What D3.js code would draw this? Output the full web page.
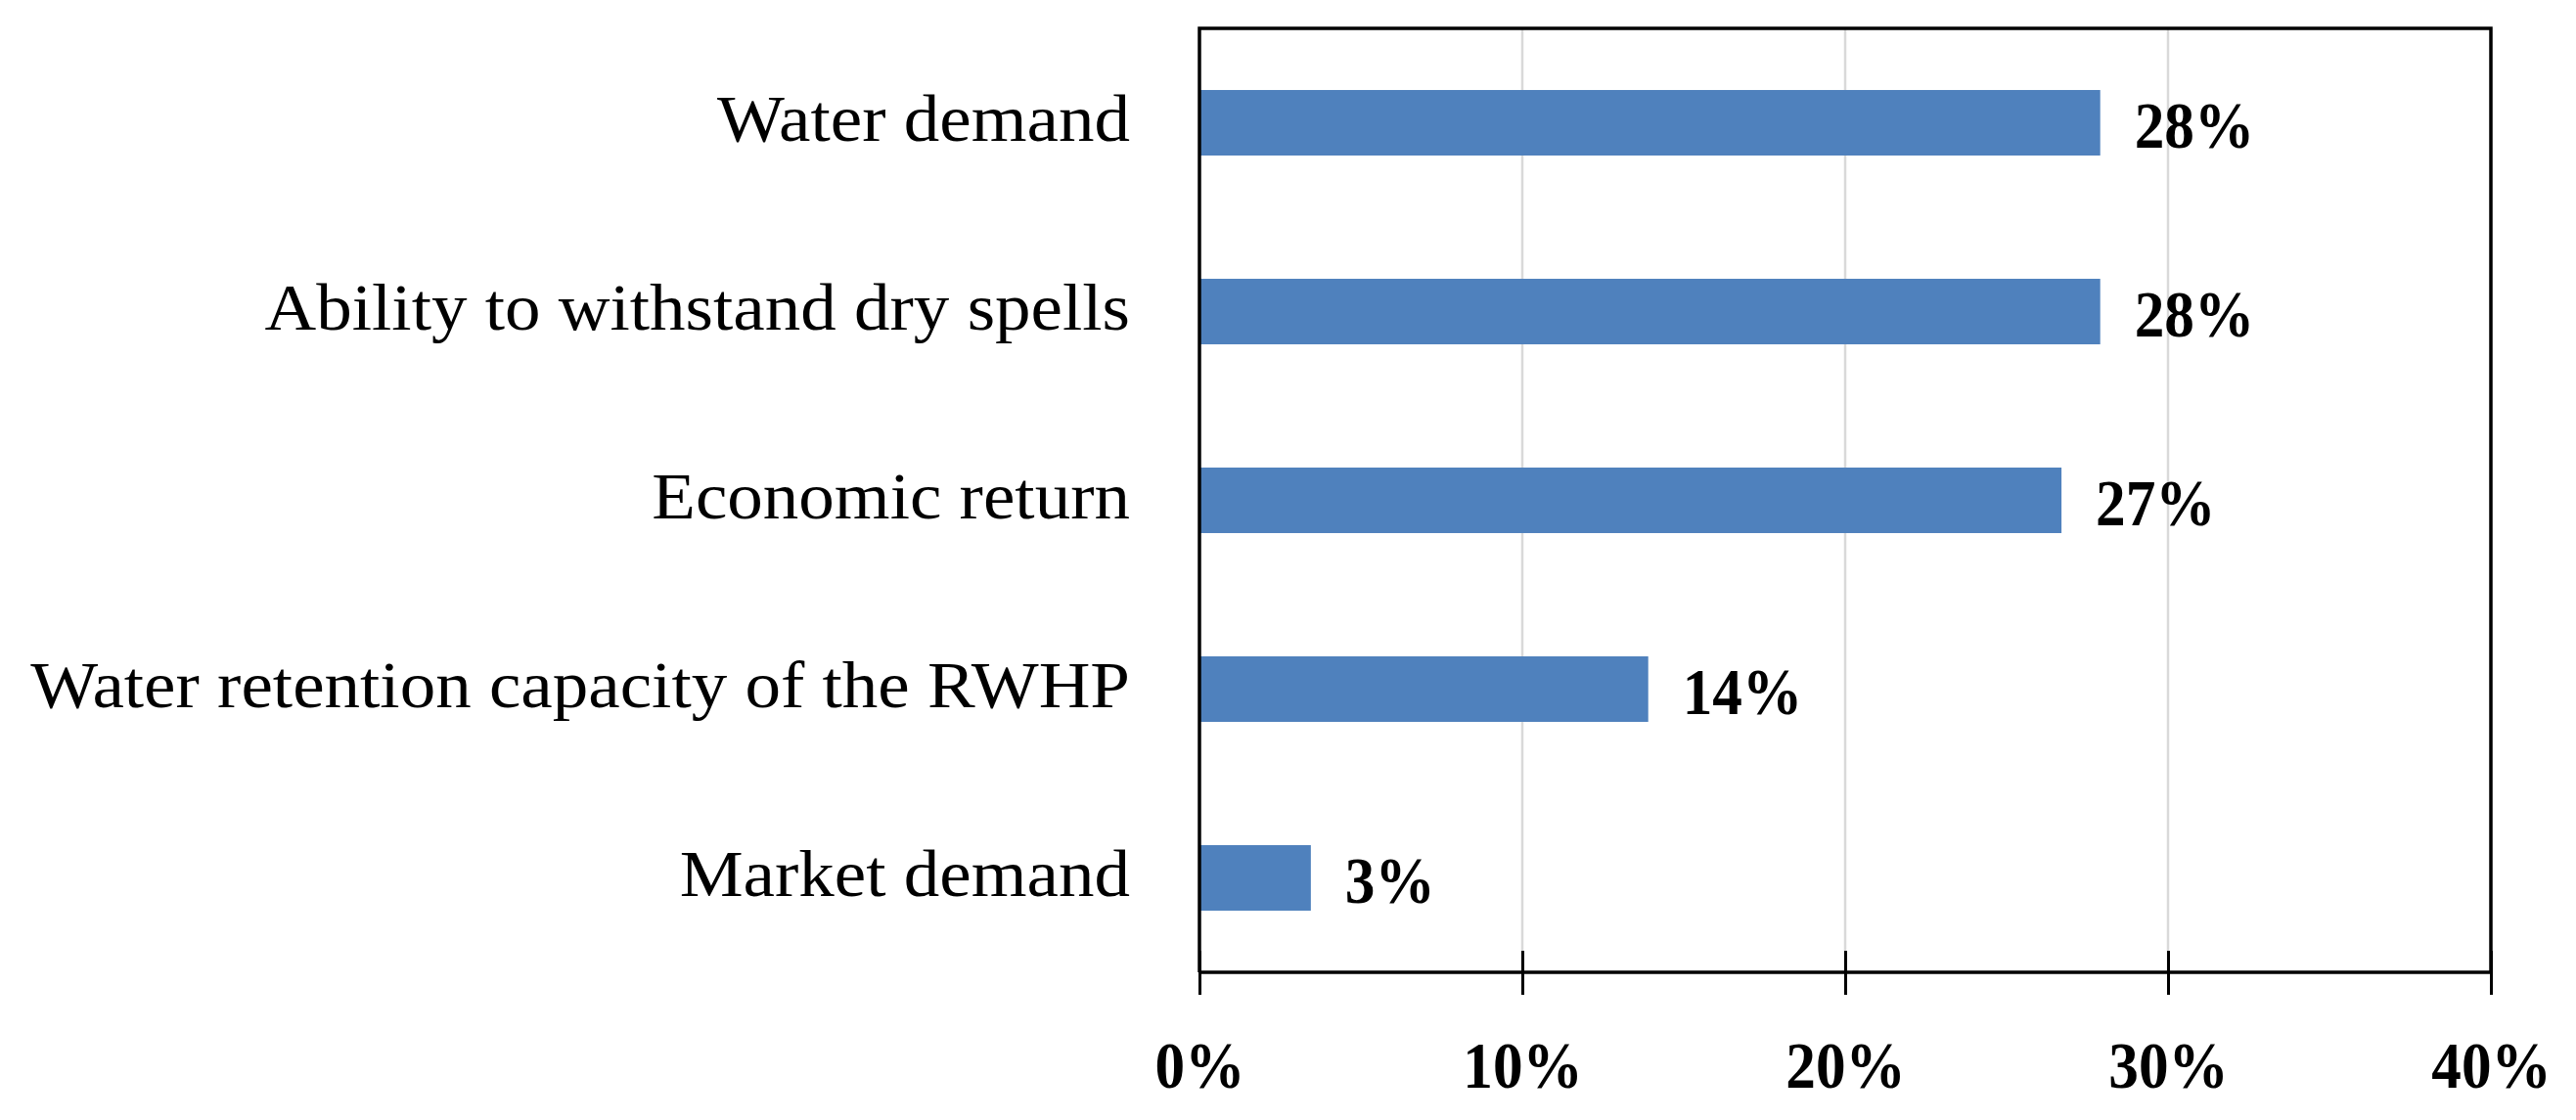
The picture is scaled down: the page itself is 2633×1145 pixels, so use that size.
<!DOCTYPE html>
<html>
<head>
<meta charset="utf-8">
<script src="https://cdn.jsdelivr.net/npm/d3@7"></script>
<style>
  html, body { margin: 0; padding: 0; background: #ffffff; }
  svg { display: block; }
</style>
</head>
<body>
<svg id="chart" width="2633" height="1145"></svg>
<script>
// ---- data ----
const categories = [
  "Water demand",
  "Ability to withstand dry spells",
  "Economic return",
  "Water retention capacity of the RWHP",
  "Market demand"
];
const values = [27.9, 27.9, 26.7, 13.9, 3.45];
const valueLabels = ["28%", "28%", "27%", "14%", "3%"];
const tickValues = [0, 10, 20, 30, 40];
const tickLabels = ["0%", "10%", "20%", "30%", "40%"];

// ---- layout ----
const W = 2633, H = 1145;
const plot = { left: 1226, right: 2546, top: 29, bottom: 994 };
const barColor = "#4f81bd";
const catFont = "'Liberation Serif', 'Times New Roman', serif";
const numFont = "'Liberation Serif', 'Times New Roman', serif";

const svg = d3.select("#chart");

const x = d3.scaleLinear().domain([0, 40]).range([plot.left, plot.right]);
const y = d3.scaleBand().domain(categories)
  .range([plot.top, plot.bottom])
  .paddingInner(0.653).paddingOuter(0.3265);

// gridlines
svg.append("g").selectAll("line")
  .data(tickValues.filter(v => v > 0 && v < 40))
  .join("line")
  .attr("x1", d => x(d)).attr("x2", d => x(d))
  .attr("y1", plot.top).attr("y2", plot.bottom)
  .attr("stroke", "#d9d9d9").attr("stroke-width", 2.5);

// bars
svg.append("g").selectAll("rect")
  .data(values)
  .join("rect")
  .attr("x", x(0))
  .attr("y", (d, i) => y(categories[i]))
  .attr("width", d => x(d) - x(0))
  .attr("height", y.bandwidth())
  .attr("fill", barColor);

// frame: top, left, right
svg.append("path")
  .attr("d", `M${plot.left},${plot.bottom} L${plot.left},${plot.top} L${plot.right},${plot.top} L${plot.right},${plot.bottom}`)
  .attr("fill", "none").attr("stroke", "#000").attr("stroke-width", 3.5);

// x axis
const xAxis = d3.axisBottom(x)
  .tickValues(tickValues)
  .tickFormat((d, i) => tickLabels[i])
  .tickSize(23)
  .tickPadding(0);
const gx = svg.append("g")
  .attr("transform", `translate(0,${plot.bottom})`)
  .call(xAxis);
gx.select(".domain").attr("stroke", "#000").attr("stroke-width", 3.5)
  .attr("d", `M${plot.left},0H${plot.right}`);
gx.selectAll(".tick line").attr("stroke", "#000").attr("stroke-width", 3)
  .attr("y1", -22).attr("y2", 23);
gx.selectAll(".tick text")
  .attr("fill", "#000")
  .attr("y", 118).attr("dy", null)
  .style("font-family", numFont).style("font-weight", "bold")
  .style("font-size", "68px");

// category labels
const catText = svg.append("g").selectAll("text")
  .data(categories)
  .join("text")
  .attr("x", plot.left - 71)
  .attr("y", d => y(d) + y.bandwidth() / 2 + 18)
  .attr("text-anchor", "end")
  .style("font-family", catFont)
  .style("font-size", "67px")
  .attr("fill", "#000")
  .text(d => d);
catText.each(function () {
  const len = this.getComputedTextLength();
  d3.select(this).attr("textLength", len * 1.09).attr("lengthAdjust", "spacingAndGlyphs");
});

// value labels
const valText = svg.append("g").selectAll("text")
  .data(values)
  .join("text")
  .attr("x", d => x(d) + 35)
  .attr("y", (d, i) => y(categories[i]) + y.bandwidth() / 2 + 25)
  .attr("text-anchor", "start")
  .style("font-family", numFont).style("font-weight", "bold")
  .style("font-size", "68px")
  .attr("fill", "#000")
  .text((d, i) => valueLabels[i]);
valText.each(function () {
  const len = this.getComputedTextLength();
  d3.select(this).attr("textLength", len * 0.9).attr("lengthAdjust", "spacingAndGlyphs");
});
gx.selectAll(".tick text").each(function () {
  const len = this.getComputedTextLength();
  d3.select(this).attr("textLength", len * 0.9).attr("lengthAdjust", "spacingAndGlyphs");
});
</script>
</body>
</html>
